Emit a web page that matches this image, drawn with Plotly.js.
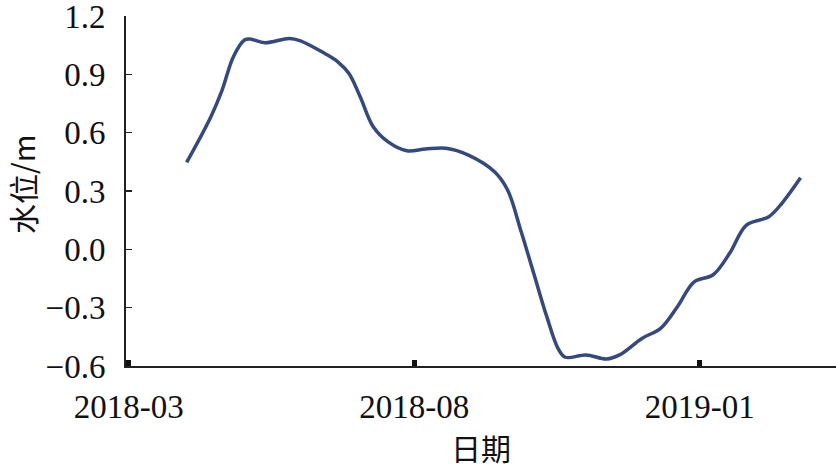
<!DOCTYPE html>
<html>
<head>
<meta charset="utf-8">
<script src="https://cdn.plot.ly/plotly-3.0.1.min.js"></script>
<style>html,body{margin:0;padding:0;background:#fff;}#chart{width:836px;height:469px;}</style>
</head>
<body>
<div id="chart"></div>
<script>
const dates = ["2018-04-01","2018-04-14","2018-04-20","2018-04-26","2018-05-02","2018-05-05","2018-05-13","2018-05-26","2018-06-01","2018-06-14","2018-06-21","2018-06-27","2018-07-03","2018-07-10","2018-07-18","2018-07-28","2018-08-07","2018-08-18","2018-08-30","2018-09-13","2018-09-20","2018-09-27","2018-10-04","2018-10-11","2018-10-17","2018-10-21","2018-11-01","2018-11-12","2018-11-19","2018-12-01","2018-12-11","2018-12-20","2018-12-29","2019-01-08","2019-01-17","2019-01-26","2019-02-07","2019-02-14","2019-02-24"];
const waterLevel = [0.447,0.682,0.819,0.99,1.077,1.082,1.063,1.085,1.073,1.008,0.965,0.905,0.785,0.631,0.553,0.507,0.516,0.52,0.485,0.399,0.305,0.10,-0.123,-0.346,-0.509,-0.555,-0.543,-0.564,-0.543,-0.458,-0.406,-0.295,-0.167,-0.132,-0.02,0.125,0.168,0.237,0.368];
const yTicks = [-0.6,-0.3,0.0,0.3,0.6,0.9,1.2];
const xTicks = ["2018-03-01","2018-08-01","2019-01-01"];
const xTickLabels = ["2018-03","2018-08","2019-01"];
const yTitle = "水位/m";
const xTitle = "日期";

const tickFont = {family: "Liberation Serif, DejaVu Serif, serif", size: 33, color: "#111"};
const titleFont = {family: "Noto Sans CJK SC, sans-serif", size: 30, color: "#111"};

Plotly.newPlot("chart", [{
  x: dates, y: waterLevel, type: "scatter", mode: "lines",
  line: {color: "#34497f", width: 3.5, shape: "spline", smoothing: 1},
  hoverinfo: "skip"
}], {
  width: 836, height: 469,
  margin: {l: 126, r: 0, t: 16, b: 103},
  paper_bgcolor: "#fff", plot_bgcolor: "#fff",
  showlegend: false,
  xaxis: {
    type: "date",
    range: ["2018-02-27 12:00", "2019-03-15"],
    tickmode: "array", tickvals: xTicks, ticktext: xTickLabels,
    ticks: "inside", ticklen: 6, tickwidth: 5, tickcolor: "#111",
    showline: true, linecolor: "#222", linewidth: 2,
    showgrid: false, zeroline: false,
    tickfont: tickFont, ticklabelstandoff: 10,
    title: {text: xTitle, font: titleFont, standoff: 14}
  },
  yaxis: {
    range: [-0.6, 1.2005],
    tickmode: "array", tickvals: yTicks,
    ticktext: yTicks.map(v => v.toFixed(1).replace("-", "\u2212")),
    ticks: "inside", ticklen: 6, tickwidth: 1.5, tickcolor: "#222",
    showline: true, linecolor: "#222", linewidth: 2,
    showgrid: false, zeroline: false,
    tickfont: tickFont, ticklabelstandoff: 12, ticklabeloverflow: "allow"
  },
  annotations: [{
    text: yTitle, font: titleFont, textangle: -90,
    xref: "paper", yref: "paper", x: 0, y: 0.52,
    xanchor: "center", yanchor: "middle", xshift: -104, showarrow: false
  }]
}, {displayModeBar: false, staticPlot: true});
</script>
</body>
</html>
